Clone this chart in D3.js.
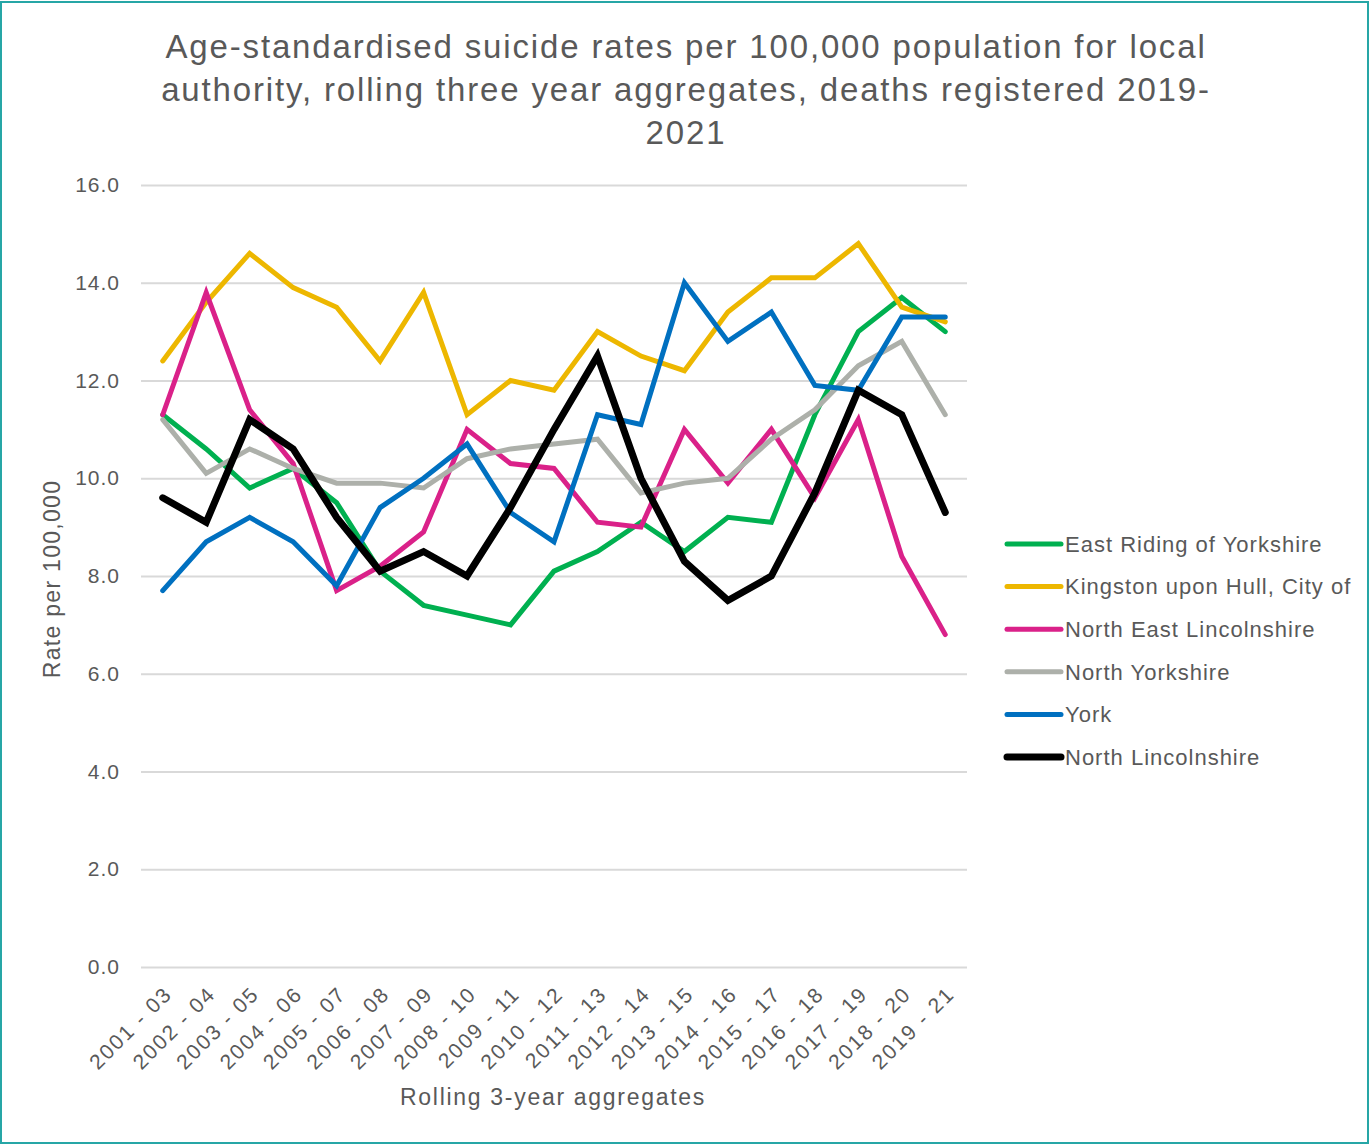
<!DOCTYPE html>
<html>
<head>
<meta charset="utf-8">
<script src="https://cdn.jsdelivr.net/npm/d3@7/dist/d3.min.js"></script>
<style>
  html, body { margin: 0; padding: 0; background: #fff; }
  svg { display: block; font-family: "Liberation Sans", Arial, sans-serif; }
</style>
</head>
<body>
<svg id="chart" width="1370" height="1145"></svg>
<script>
// Rolling three-year periods
const periods = ["2001 - 03","2002 - 04","2003 - 05","2004 - 06","2005 - 07","2006 - 08","2007 - 09",
  "2008 - 10","2009 - 11","2010 - 12","2011 - 13","2012 - 14","2013 - 15","2014 - 16","2015 - 17",
  "2016 - 18","2017 - 19","2018 - 20","2019 - 21"];

// Age-standardised rates per 100,000 by local authority
const eastRiding      = [11.3,10.6,9.8,10.2,9.5,8.1,7.4,7.2,7.0,8.1,8.5,9.1,8.5,9.2,9.1,11.3,13.0,13.7,13.0];
const kingstonHull    = [12.4,13.6,14.6,13.9,13.5,12.4,13.8,11.3,12.0,11.8,13.0,12.5,12.2,13.4,14.1,14.1,14.8,13.5,13.2];
const northEastLincs  = [11.3,13.8,11.4,10.3,7.7,8.2,8.9,11.0,10.3,10.2,9.1,9.0,11.0,9.9,11.0,9.6,11.2,8.4,6.8];
const northYorkshire  = [11.2,10.1,10.6,10.2,9.9,9.9,9.8,10.4,10.6,10.7,10.8,9.7,9.9,10.0,10.8,11.4,12.3,12.8,11.3];
const york            = [7.7,8.7,9.2,8.7,7.8,9.4,10.0,10.7,9.3,8.7,11.3,11.1,14.0,12.8,13.4,11.9,11.8,13.3,13.3];
const northLincs      = [9.6,9.1,11.2,10.6,9.2,8.1,8.5,8.0,9.4,11.0,12.5,10.0,8.3,7.5,8.0,9.7,11.8,11.3,9.3];

const seriesNames  = ["East Riding of Yorkshire","Kingston upon Hull, City of","North East Lincolnshire",
  "North Yorkshire","York","North Lincolnshire"];
const seriesValues = [eastRiding, kingstonHull, northEastLincs, northYorkshire, york, northLincs];
const seriesColors = ["#00B050","#EDB700","#DA2189","#ADB0AA","#0070C0","#000000"];
const seriesWidths = [5, 5, 5, 5, 5, 7];

const yTicks = [0,2,4,6,8,10,12,14,16];

const titleLines = ["Age-standardised suicide rates per 100,000 population for local",
  "authority, rolling three year aggregates, deaths registered 2019-", "2021"];

const svg = d3.select("#chart");
const textColor = "#595959";
const font = "'Liberation Sans', Arial, sans-serif";

// Outer frame
svg.append("rect").attr("x", 1).attr("y", 2).attr("width", 1367).attr("height", 1141)
  .attr("fill", "#fff").attr("stroke", "#26A6A6").attr("stroke-width", 2);

const plot = { left: 141, right: 967, top: 185, bottom: 967 };

const x = d3.scalePoint().domain(periods).range([plot.left, plot.right]).padding(0.5);
const y = d3.scaleLinear().domain([0, 16]).range([plot.bottom, plot.top]);

// Title
svg.append("text").attr("x", 686).attr("y", 58).attr("text-anchor", "middle")
  .attr("font-size", 33).attr("letter-spacing", 1.85).attr("fill", textColor)
  .selectAll("tspan").data(titleLines).join("tspan")
  .attr("x", 686).attr("dy", (d, i) => i === 0 ? 0 : 43).text(d => d);

// Gridlines and y labels
const yAxis = d3.axisLeft(y).tickValues(yTicks).tickFormat(d3.format(".1f"))
  .tickSize(-(plot.right - plot.left)).tickPadding(21);
const gy = svg.append("g").attr("transform", `translate(${plot.left},0)`).call(yAxis);
gy.select(".domain").remove();
gy.selectAll(".tick line").attr("stroke", "#D9D9D9").attr("stroke-width", 2);
gy.selectAll(".tick text").attr("fill", textColor).attr("font-size", 21)
  .attr("letter-spacing", 1).attr("font-family", font);

// X labels, rotated
const xAxis = d3.axisBottom(x).tickSize(0).tickPadding(0);
const gx = svg.append("g").attr("transform", `translate(0,${plot.bottom})`).call(xAxis);
gx.select(".domain").remove();
gx.selectAll(".tick text")
  .attr("fill", textColor).attr("font-size", 21).attr("letter-spacing", 2)
  .attr("font-family", font)
  .attr("text-anchor", "end")
  .attr("dy", "0.35em")
  .attr("transform", "translate(5,23) rotate(-45)");

// Axis titles
svg.append("text").attr("x", 553).attr("y", 1105).attr("text-anchor", "middle")
  .attr("font-size", 23).attr("letter-spacing", 1.7).attr("fill", textColor)
  .text("Rolling 3-year aggregates");
svg.append("text").attr("transform", "translate(60,579) rotate(-90)").attr("text-anchor", "middle")
  .attr("font-size", 23).attr("letter-spacing", 1.3).attr("fill", textColor)
  .text("Rate per 100,000");

// Lines
const line = d3.line().x((d, i) => x(periods[i])).y(d => y(d));
seriesValues.forEach((vals, k) => {
  svg.append("path").datum(vals).attr("d", line)
    .attr("fill", "none").attr("stroke", seriesColors[k]).attr("stroke-width", seriesWidths[k])
    .attr("stroke-linejoin", "miter").attr("stroke-linecap", "round");
});

// Legend
const legend = svg.append("g").attr("transform", "translate(1005,544)");
seriesNames.forEach((name, k) => {
  const row = legend.append("g").attr("transform", `translate(0,${k * 42.6})`);
  row.append("line").attr("x1", 2).attr("x2", 56).attr("y1", 0).attr("y2", 0)
    .attr("stroke", seriesColors[k]).attr("stroke-width", seriesWidths[k]).attr("stroke-linecap", "round");
  row.append("text").attr("x", 60).attr("y", 0).attr("dy", "0.35em")
    .attr("font-size", 22).attr("letter-spacing", 1).attr("fill", textColor).text(name);
});
</script>
</body>
</html>
